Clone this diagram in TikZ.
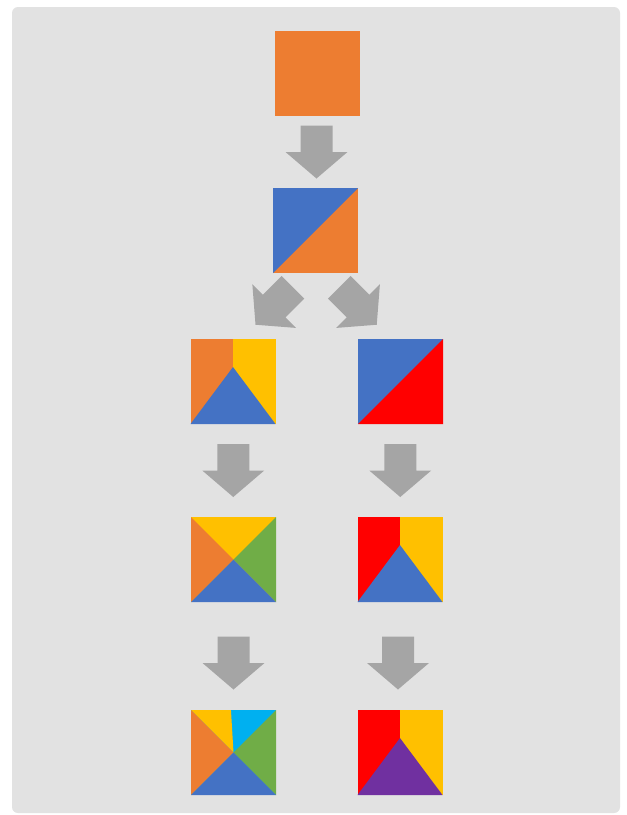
\documentclass[tikz,border=0pt]{standalone}
\usepackage{tikz}
\usetikzlibrary{calc}
\definecolor{panelgrey}{RGB}{226,226,226}
\definecolor{arrowgrey}{RGB}{165,165,165}
\definecolor{sqorange}{RGB}{237,125,49}
\definecolor{sqblue}{RGB}{68,114,196}
\definecolor{sqyellow}{RGB}{255,192,0}
\definecolor{sqgreen}{RGB}{112,173,71}
\definecolor{sqred}{RGB}{255,0,0}
\definecolor{sqcyan}{RGB}{0,176,240}
\definecolor{sqpurple}{RGB}{112,48,160}

\begin{document}
\begin{tikzpicture}[x=1pt, y=-1pt,
		sq/.style={minimum size=85pt, inner sep=0pt, outer sep=0pt},
		blockarrow/.pic={\fill[arrowgrey] (-16,-26.5) -- (16,-26.5) -- (16,0) -- (31,0) -- (0,26.5) -- (-31,0) -- (-16,0) -- cycle;}]
			\def\apex{0.33}

			\useasboundingbox (0,0) rectangle (627,815);
			\fill[white] (0,0) rectangle (627,815);
			\fill[panelgrey, rounded corners=6pt] (12,7) rectangle (620,813);

			\node[sq, fill=sqorange] (s1) at (317.5,73.5) {};

			\node[sq, fill=sqorange] (s2) at (315.5,230.5) {};
			\fill[sqblue] (s2.south west) -- (s2.north east) -- (s2.north west) -- cycle;

			\node[sq, fill=sqorange] (s3a) at (233,381.5) {};
			\fill[sqyellow] (s3a.north) rectangle (s3a.south east);
			\fill[sqblue] (s3a.south west) -- (s3a.south east) -- ($(s3a.north)!\apex!(s3a.south)$) -- cycle;

			\node[sq, fill=sqblue] (s3b) at (400.5,381.5) {};
			\fill[sqred] (s3b.south west) -- (s3b.north east) -- (s3b.south east) -- cycle;

			\node[sq, fill=sqyellow] (s4a) at (233.5,559.5) {};
			\fill[sqorange] (s4a.north west) -- (s4a.center) -- (s4a.south west) -- cycle;
			\fill[sqgreen] (s4a.north east) -- (s4a.center) -- (s4a.south east) -- cycle;
			\fill[sqblue] (s4a.south west) -- (s4a.center) -- (s4a.south east) -- cycle;

			\node[sq, fill=sqred] (s4b) at (400,559.5) {};
			\fill[sqyellow] (s4b.north) rectangle (s4b.south east);
			\fill[sqblue] (s4b.south west) -- (s4b.south east) -- ($(s4b.north)!\apex!(s4b.south)$) -- cycle;

			\node[sq, fill=sqcyan] (s5a) at (233.5,752.5) {};
			\fill[sqyellow] (s5a.north west) -- ($(s5a.north west)!0.47!(s5a.north east)$) -- (s5a.center) -- cycle;
			\fill[sqorange] (s5a.north west) -- (s5a.center) -- (s5a.south west) -- cycle;
			\fill[sqgreen] (s5a.north east) -- (s5a.center) -- (s5a.south east) -- cycle;
			\fill[sqblue] (s5a.south west) -- (s5a.center) -- (s5a.south east) -- cycle;

			\node[sq, fill=sqred] (s5b) at (400,752.5) {};
			\fill[sqyellow] (s5b.north) rectangle (s5b.south east);
			\fill[sqpurple] (s5b.south west) -- (s5b.south east) -- ($(s5b.north)!\apex!(s5b.south)$) -- cycle;

			\pic at ($(s1.south)!0.5!(s2.north)$) {blockarrow};
			\pic[rotate=-45] at ($(s2.south)!0.5!(s3a.north)$) {blockarrow};
			\pic[rotate=45] at ($(s2.south)!0.5!(s3b.north)$) {blockarrow};
			\pic at ($(s3a.south)!0.5!(s4a.north)$) {blockarrow};
			\pic at ($(s3b.south)!0.5!(s4b.north)$) {blockarrow};
			\pic at ($(s4a.south)!0.5!(s5a.north)+(0,7)$) {blockarrow};
			\pic at ($(s4b.south)!0.5!(s5b.north)+(-2,7)$) {blockarrow};

		\end{tikzpicture}
\end{document}
